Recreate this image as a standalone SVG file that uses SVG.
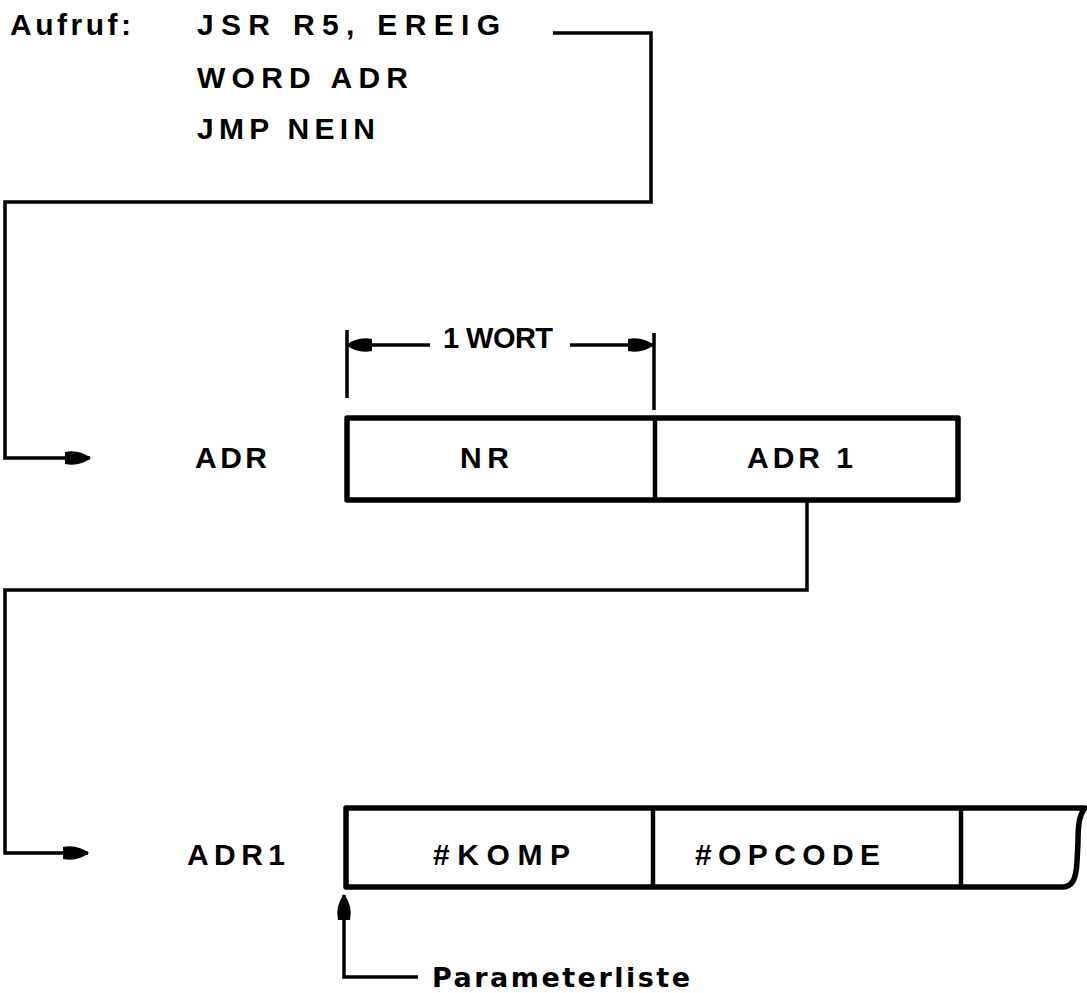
<svg xmlns="http://www.w3.org/2000/svg" width="1087" height="993" viewBox="0 0 1087 993">
<defs>
<style>
.t{font-family:"Liberation Sans",Arial,sans-serif;font-weight:bold;font-size:30px;fill:#000}
.s{font-size:29px}
.p{font-family:"DejaVu Sans","Liberation Sans",sans-serif;font-weight:bold;font-size:27px}
.ln{fill:none;stroke:#000;stroke-width:3.5;stroke-linejoin:miter}
.bx{fill:#fff;stroke:#000;stroke-width:5.5;stroke-linejoin:round}
.dv{stroke:#000;stroke-width:4.5}
</style>
<marker id="ah" viewBox="0 0 26 18" refX="25" refY="9" markerWidth="26" markerHeight="18" markerUnits="userSpaceOnUse" orient="auto">
<path d="M0,3 Q14,0 26,9 Q14,18 0,15 Z" fill="#000"/>
</marker>
</defs>
<rect width="1087" height="993" fill="#fff"/>
<g id="code">
<text class="t" x="10" y="35" textLength="121" lengthAdjust="spacing">Aufruf:</text>
<text class="t" x="197" y="35" textLength="303" lengthAdjust="spacing">JSR R5, EREIG</text>
<text class="t" x="197" y="88" textLength="211" lengthAdjust="spacing">WORD ADR</text>
<text class="t" x="197" y="139" textLength="178" lengthAdjust="spacing">JMP NEIN</text>
</g>
<g id="connectors">
<path class="ln" d="M553,33 H651 V202 H5 V458 H90" marker-end="url(#ah)"/>
<path class="ln" d="M807,500 V590 H5 V853 H88" marker-end="url(#ah)"/>
<path class="ln" d="M418,977 H344 V895" marker-end="url(#ah)"/>
</g>
<g id="dimension">
<path class="ln" d="M347,330 V398 M654,333 V410"/>
<path class="ln" d="M430,345 H347" marker-end="url(#ah)"/>
<path class="ln" d="M570,345 H653" marker-end="url(#ah)"/>
<text class="t s" x="443" y="348" textLength="110" lengthAdjust="spacing">1 WORT</text>
</g>
<g id="adr">
<text class="t" x="195" y="468" textLength="72" lengthAdjust="spacing">ADR</text>
<rect class="bx" x="347" y="418" width="611" height="82"/>
<line class="dv" x1="655" y1="418" x2="655" y2="500"/>
<text class="t" x="460" y="468" textLength="49" lengthAdjust="spacing">NR</text>
<text class="t" x="747" y="468" textLength="106" lengthAdjust="spacing">ADR 1</text>
</g>
<g id="adr1">
<text class="t" x="187" y="865" textLength="98" lengthAdjust="spacing">ADR1</text>
<path class="bx" d="M346,808 H1085 C1079,815 1078,826 1078,842 L1077,862 C1076,880 1072,887 1062,887 H346 Z"/>
<line class="dv" x1="653" y1="808" x2="653" y2="887"/>
<line class="dv" x1="961" y1="808" x2="961" y2="887"/>
<text class="t" x="433" y="865" textLength="137" lengthAdjust="spacing">#KOMP</text>
<text class="t" x="695" y="865" textLength="185" lengthAdjust="spacing">#OPCODE</text>
</g>
<g id="param">
<text class="t p" x="432" y="987" textLength="258" lengthAdjust="spacing">Parameterliste</text>
</g>
</svg>
